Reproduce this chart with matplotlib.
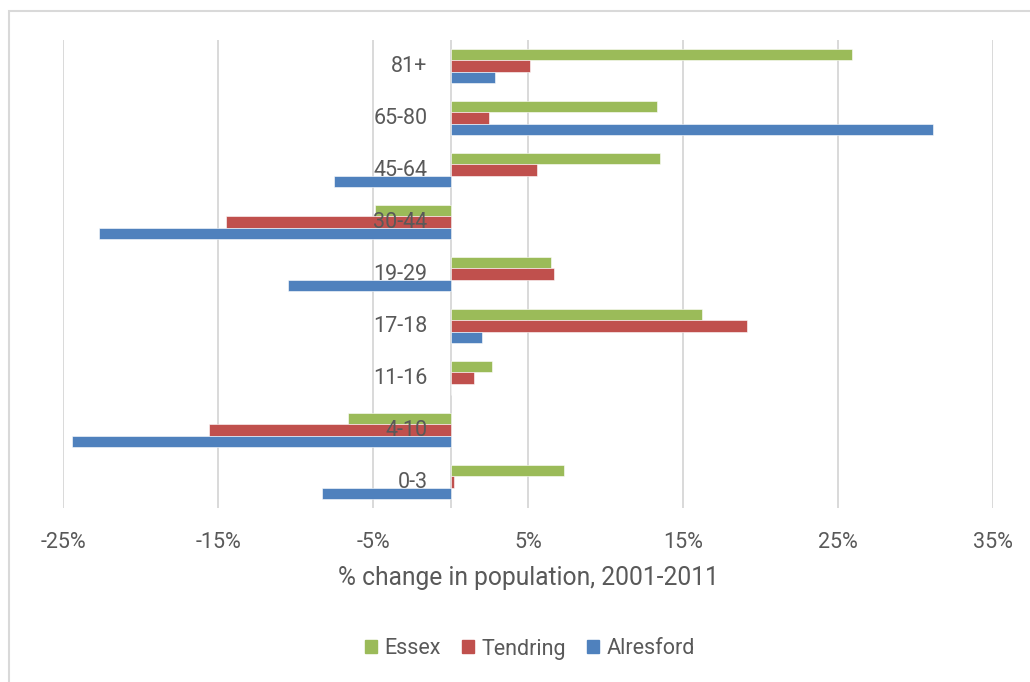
import matplotlib
matplotlib.use("Agg")
import matplotlib.pyplot as plt
import matplotlib.transforms as mtransforms
from matplotlib.patches import Patch, Rectangle
import numpy as np

# age bands, bottom to top
ages = ["0-3", "4-10", "11-16", "17-18", "19-29", "30-44", "45-64", "65-80", "81+"]
essex = [7.3, -6.6, 2.7, 16.2, 6.5, -4.9, 13.5, 13.3, 25.9]
tendring = [0.2, -15.6, 1.5, 19.1, 6.7, -14.5, 5.6, 2.5, 5.1]
alresford = [-8.3, -24.4, 0.0, 2.0, -10.5, -22.7, -7.5, 31.1, 2.9]
ticks = [-25, -15, -5, 5, 15, 25, 35]

GREEN = "#9BBB59"
RED = "#C0504D"
BLUE = "#4F81BD"
TXT = "#595959"
GRID = "#D9D9D9"

plt.rcParams["font.family"] = ["Roboto", "DejaVu Sans"]

fig = plt.figure(figsize=(10.3, 6.82), dpi=100)
ax = fig.add_axes([63 / 1030, 1 - 508 / 682, 930 / 1030, 468 / 682])

y = np.arange(len(ages))
h = 0.217
for vals, off, col in [(essex, h, GREEN), (tendring, 0, RED), (alresford, -h, BLUE)]:
    ax.barh(y + off, vals, height=h, color=col, edgecolor="white", linewidth=0.4, zorder=3)

ax.set_xlim(-25, 35)
ax.set_ylim(-0.5, len(ages) - 0.5)
ax.set_xticks(ticks)
ax.set_xticklabels([f"{t}%" for t in ticks], fontsize=15.5, color=TXT)
ax.tick_params(axis="x", length=0, pad=17)
ax.set_yticks([])
for x in ticks + [0]:
    ax.axvline(x, color=GRID, lw=1.4, zorder=1)
for s in ax.spines.values():
    s.set_visible(False)

# category labels sit just left of the zero line
lab_tr = mtransforms.offset_copy(ax.transData, fig=fig, x=-23, y=0, units="dots")
for yi, a in zip(y, ages):
    ax.text(0, yi, a, transform=lab_tr, ha="right", va="center",
            fontsize=15.5, color=TXT, zorder=4)

fig.text(528 / 1030, 1 - 578 / 682, "% change in population, 2001-2011",
         ha="center", va="center", fontsize=17.7, color=TXT)

handles = [Patch(color=GREEN), Patch(color=RED), Patch(color=BLUE)]
leg = fig.legend(handles, ["Essex", "Tendring", "Alresford"], loc="center",
                 bbox_to_anchor=(530 / 1030, 1 - 649 / 682), ncol=3, frameon=False,
                 fontsize=15.5, handlelength=0.55, handleheight=0.55,
                 handletextpad=0.35, columnspacing=1.0)
for t in leg.get_texts():
    t.set_color(TXT)

# chart frame
fig.patches.append(Rectangle((8.5 / 1030, -0.1), 1.2, 1 - 11 / 682 + 0.1,
                             transform=fig.transFigure, fill=False,
                             edgecolor=GRID, lw=1.5))

fig.savefig("out.png", dpi=100, facecolor="white")
